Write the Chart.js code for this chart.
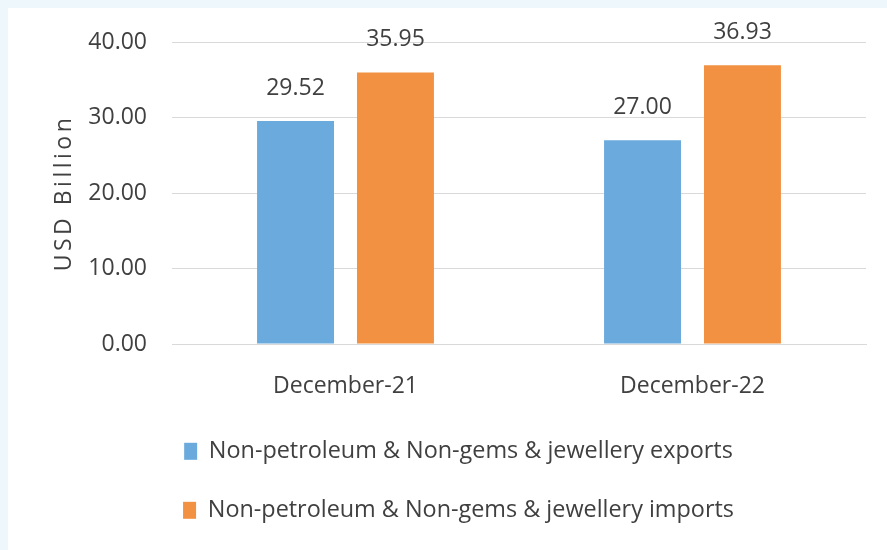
<!DOCTYPE html>
<html>
<head>
<meta charset="utf-8">
<script src="https://cdn.jsdelivr.net/npm/chart.js@4"></script>
<style>
  html, body { margin: 0; padding: 0; background: #eef7fb; }
  #wrap { position: absolute; left: 8px; top: 8px; width: 879px; height: 542px; background: #ffffff; }
</style>
</head>
<body>
<div id="wrap"><canvas id="chart"></canvas></div>
<script>
// chart data
var categories = ['December-21', 'December-22'];
var exportsValues = [29.52, 27.00];
var importsValues = [35.95, 36.93];
var seriesNames = [
    'Non-petroleum & Non-gems & jewellery exports',
    'Non-petroleum & Non-gems & jewellery imports'
];
var yTicks = [0, 10, 20, 30, 40];

var fontFamily = '"Open Sans", "Noto Sans", sans-serif';
var textColor = '#404040';

// draws the value above each bar
var valueLabels = {
    id: 'valueLabels',
    afterDatasetsDraw: function(chart) {
        var ctx = chart.ctx;
        ctx.save();
        ctx.font = '23px ' + fontFamily;
        ctx.fillStyle = textColor;
        ctx.textAlign = 'center';
        ctx.textBaseline = 'middle';
        chart.data.datasets.forEach(function(ds, i) {
            chart.getDatasetMeta(i).data.forEach(function(bar, j) {
                ctx.fillText(ds.data[j].toFixed(2), bar.x, bar.y - 33);
            });
        });
        ctx.restore();
    }
};

// the axis title in the picture is spaced out a bit
var spacedTitle = {
    id: 'spacedTitle',
    beforeDraw: function(chart) {
        var scale = chart.scales.y;
        if (scale._spaced) return;
        var orig = scale.drawTitle;
        scale.drawTitle = function() {
            chart.ctx.save();
            chart.ctx.letterSpacing = '3.5px';
            orig.apply(this, arguments);
            chart.ctx.restore();
        };
        scale._spaced = true;
    }
};

var ctx = document.getElementById('chart');
new Chart(ctx, {
    type: 'bar',
    data: {
        labels: categories,
        datasets: [{
            label: seriesNames[0],
            data: exportsValues,
            backgroundColor: '#6aaadd'
        }, {
            label: seriesNames[1],
            data: importsValues,
            backgroundColor: '#f29141'
        }]
    },
    options: {
        responsive: true,
        maintainAspectRatio: false,
        animation: false,
        categoryPercentage: 0.576,
        barPercentage: 0.77,
        layout: { padding: { left: 43, right: 21, top: 34, bottom: 18 } },
        plugins: {
            tooltip: { enabled: false },
            legend: {
                position: 'bottom',
                align: 'center',
                labels: {
                    boxWidth: 13,
                    boxHeight: 17,
                    padding: 35.6,
                    color: textColor,
                    font: { family: fontFamily, size: 23.4 }
                }
            }
        },
        scales: {
            x: {
                grid: { display: false },
                border: { color: '#d9d9d9' },
                ticks: { color: textColor, padding: 21, font: { family: fontFamily, size: 23 } },
                afterFit: function(scale) { scale.height = 60; }
            },
            y: {
                min: 0,
                max: 40,
                afterBuildTicks: function(scale) {
                    scale.ticks = yTicks.map(function(v) { return { value: v }; });
                },
                grid: { color: '#d9d9d9', drawTicks: false },
                border: { display: false },
                ticks: {
                    color: textColor,
                    padding: 25,
                    font: { family: fontFamily, size: 23 },
                    callback: function(value) { return value.toFixed(2); }
                },
                title: {
                    display: true,
                    text: 'USD Billion',
                    color: textColor,
                    padding: 0,
                    font: { family: fontFamily, size: 23 }
                },
                afterFit: function(scale) {
                    scale.width = 121;
                    scale.paddingTop = 0;
                    scale.paddingBottom = 0;
                }
            }
        }
    },
    plugins: [valueLabels, spacedTitle]
});
</script>
</body>
</html>
